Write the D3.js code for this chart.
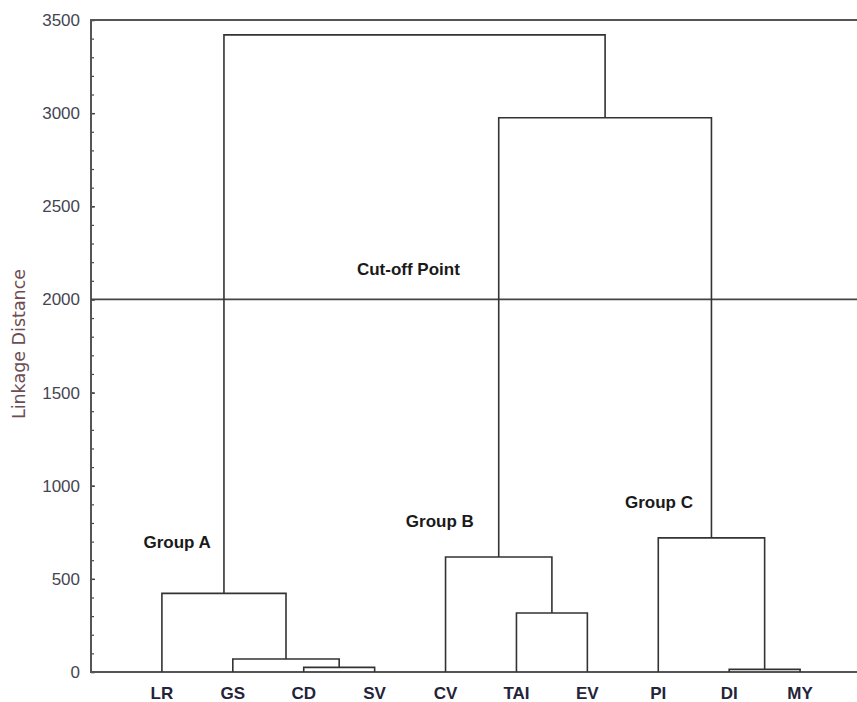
<!DOCTYPE html>
<html>
<head>
<meta charset="utf-8">
<script src="https://cdn.jsdelivr.net/npm/d3@7"></script>
<style>
  body { margin: 0; background: #fff; }
  svg text { font-family: "Liberation Sans", Arial, sans-serif; }
</style>
</head>
<body>
<svg id="chart" width="857" height="702"></svg>
<script>
// leaves in display order
var leaves = ["LR", "GS", "CD", "SV", "CV", "TAI", "EV", "PI", "DI", "MY"];
// linkage: [left, right, distance], new clusters numbered from 10
var merges = [
  [2, 3, 25],
  [1, 10, 70],
  [0, 11, 422],
  [8, 9, 14],
  [5, 6, 317],
  [4, 14, 617],
  [7, 13, 720],
  [15, 16, 2975],
  [12, 17, 3420]
];
var majorTicks = [0, 500, 1000, 1500, 2000, 2500, 3000, 3500];
var cutoff = 2000;
// annotations: text, leaf position, distance
var notes = [
  ["Group A", -0.26, 665],
  ["Group B", 3.44, 778],
  ["Group C", 6.53, 882],
  ["Cut-off Point", 2.75, 2131]
];

var svg = d3.select("#chart");
var plotLeft = 91, plotTop = 20, plotBottom = 672, plotRight = 871;

var x = d3.scalePoint().domain(leaves).range([plotLeft, plotRight]).padding(1);
var xi = d3.scaleLinear().domain([0, leaves.length - 1])
    .range([x(leaves[0]), x(leaves[leaves.length - 1])]);
var y = d3.scaleLinear().domain([0, 3500]).range([plotBottom, plotTop]);

// node positions
var nodes = leaves.map(function (d) { return { x: x(d), h: 0 }; });
merges.forEach(function (m) {
  var a = nodes[m[0]], b = nodes[m[1]];
  nodes.push({ x: (a.x + b.x) / 2, h: m[2], a: a, b: b });
});

// minor ticks
svg.append("g")
    .attr("transform", "translate(" + plotLeft + ",0)")
    .call(d3.axisLeft(y).tickValues(d3.range(0, 3501, 100)).tickSize(-3).tickFormat(""))
    .call(function (g) { g.select(".domain").remove(); })
    .selectAll("line").attr("stroke", "#444").attr("stroke-width", 1.2);

// major ticks and labels
var yAxis = svg.append("g")
    .attr("transform", "translate(" + plotLeft + ",0)")
    .call(d3.axisLeft(y).tickValues(majorTicks).tickFormat(d3.format("d"))
        .tickSize(-4).tickSizeOuter(0).tickPadding(11));
yAxis.select(".domain").remove();
yAxis.selectAll("line").attr("stroke", "#444").attr("stroke-width", 1.4);
yAxis.selectAll("text")
    .attr("fill", "#454552")
    .style("font-size", "17px")
    .style("font-family", "'Liberation Sans', Arial, sans-serif");

// frame
svg.append("path")
    .attr("d", "M857," + y(3500) + "H" + plotLeft + "V" + y(0) + "H857")
    .attr("stroke", "#555").attr("stroke-width", 2).attr("fill", "none");

// cut-off line
svg.append("line")
    .attr("x1", plotLeft).attr("x2", 857)
    .attr("y1", y(cutoff)).attr("y2", y(cutoff))
    .attr("stroke", "#444").attr("stroke-width", 1.8);

// dendrogram links
var links = svg.append("g").attr("stroke", "#333").attr("stroke-width", 1.6).attr("fill", "none");
nodes.slice(leaves.length).forEach(function (n) {
  links.append("path").attr("d",
    "M" + n.a.x + "," + y(n.a.h) +
    "V" + y(n.h) +
    "H" + n.b.x +
    "V" + y(n.b.h));
});

// leaf labels
svg.append("g").selectAll("text")
    .data(leaves)
    .enter()
    .append("text")
    .attr("x", function (d) { return x(d); })
    .attr("y", 699)
    .attr("text-anchor", "middle")
    .attr("font-weight", "bold")
    .attr("font-size", 17)
    .attr("fill", "#23233a")
    .text(function (d) { return d; });

// annotations
svg.append("g").selectAll("text")
    .data(notes)
    .enter()
    .append("text")
    .attr("x", function (d) { return xi(d[1]); })
    .attr("y", function (d) { return y(d[2]); })
    .attr("font-weight", "bold")
    .attr("font-size", 17)
    .attr("fill", "#1a1a1a")
    .text(function (d) { return d[0]; });

// y axis title
svg.append("text")
    .attr("transform", "translate(25,344) rotate(-90)")
    .attr("text-anchor", "middle")
    .attr("font-size", 17.5)
    .style("font-family", "'DejaVu Sans', sans-serif")
    .attr("fill", "#6e4d52")
    .text("Linkage Distance");
</script>
</body>
</html>
